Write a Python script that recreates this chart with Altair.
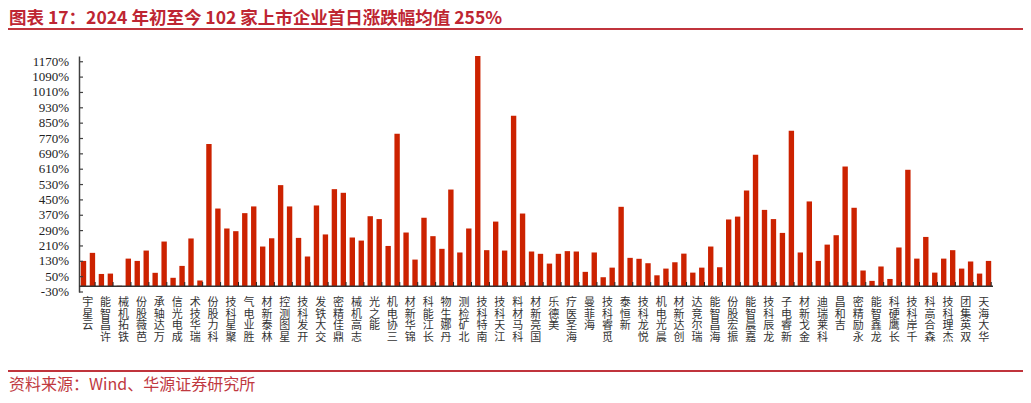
import altair as alt
import pandas as pd

# ---- data ----
values = [132, 174, 64, 66, 2, 144, 132, 186, 70, 233,
          44, 106, 249, 30, 741, 405, 301, 287, 381, 416,
          207, 250, 527, 416, 252, 155, 421, 270, 506, 487,
          254, 238, 365, 350, 210, 795, 280, 139, 357, 261,
          195, 504, 176, 301, 1200, 188, 337, 186, 889, 379,
          181, 169, 118, 169, 183, 181, 75, 176, 47, 97,
          414, 148, 143, 120, 57, 92, 125, 170, 71, 97,
          207, 99, 348, 363, 499, 685, 398, 350, 278, 810,
          176, 442, 132, 217, 266, 624, 409, 82, 28, 103,
          38, 202, 607, 144, 257, 71, 144, 188, 92, 129,
          66, 132]

names = ["云星宇", "许昌智能", "铁拓机械", "芭薇股份", "万达轴承", "成电光信", "瑞华技术",
         "科力股份", "聚星科技", "胜业电气", "林泰新材", "星图测控", "开发科技", "交大铁发",
         "鼎佳精密", "志高机械", "能之光", "三协电机", "锦华新材", "长江能科", "丹娜生物",
         "北矿检测", "南特科技", "江天科技", "科马材料", "国亮新材", "美德乐", "海圣医疗",
         "海菲曼", "觅睿科技", "新恒泰", "悦龙科技", "晨光电机", "创达新材", "瑞尔竞达",
         "海昌智能", "振宏股份", "嘉晨智能", "龙辰科技", "新睿电子", "金戈新材", "科莱瑞迪",
         "吉和昌", "永励精密", "龙鑫智能", "长鹰硬科", "千岸科技", "森合高科", "杰理科技",
         "双英集团", "华大海天"]

y_ticks = [-30, 50, 130, 210, 290, 370, 450, 530, 610, 690, 770, 850, 930, 1010, 1090, 1170]

title = "图表 17：2024 年初至今 102 家上市企业首日涨跌幅均值 255%"
source = "资料来源：Wind、华源证券研究所"

# ---- tables ----
n = len(values)
bar_df = pd.DataFrame({"idx": list(range(n)), "value": values})
lab_df = pd.DataFrame({
    "idx": [2 * k for k in range(len(names))],
    "text": ["\n".join(reversed(list(s))) for s in names],
})
xtick_df = pd.DataFrame({"idx": [i for i in range(n) if i % 2 == 1]})
ytick_df = pd.DataFrame({"v": y_ticks, "lab": [f"{v}%" for v in y_ticks]})
one = pd.DataFrame({"a": [0]})

W, H = 914, 236
RED = "#CC2200"
x_scale = alt.Scale(domain=list(range(n)), paddingInner=0.4, paddingOuter=0.2)
y_scale = alt.Scale(domain=[-30, 1200], nice=False, zero=False)
y_axis = alt.Axis(values=y_ticks, ticks=False, labels=False, grid=False,
                  domainColor="#404040", domainWidth=1.5, title=None)

bars = alt.Chart(bar_df).mark_bar(color=RED).encode(
    x=alt.X("idx:O", scale=x_scale, axis=None),
    y=alt.Y("value:Q", scale=y_scale, axis=y_axis),
    y2=alt.datum(0),
)

ytick = alt.Chart(ytick_df).mark_rule(color="#404040", strokeWidth=1.2).encode(
    y=alt.Y("v:Q", scale=y_scale, axis=y_axis), x=alt.value(0), x2=alt.value(4)
)

ylab = alt.Chart(ytick_df).mark_text(
    align="right", baseline="middle", font="Liberation Serif", fontSize=13, color="#222222"
).encode(
    y=alt.Y("v:Q", scale=y_scale, axis=y_axis), x=alt.value(-10), text="lab:N"
)

xline = alt.Chart(one).mark_rule(color="#333333", strokeWidth=1.5).encode(
    y=alt.datum(0), x=alt.value(0), x2=alt.value(W)
)

xtick = alt.Chart(xtick_df).mark_rule(color="#222222", strokeWidth=1).encode(
    x=alt.X("idx:O", scale=x_scale, bandPosition=1, axis=None),
    y=alt.datum(0), y2=alt.datum(22),
)

labels = alt.Chart(lab_df).mark_text(
    lineBreak="\n", lineHeight=11.7, font="Noto Sans CJK SC", fontSize=11,
    color="#333333", align="center", baseline="top", dx=1.5
).encode(
    x=alt.X("idx:O", scale=x_scale, bandPosition=1, axis=None),
    y=alt.value(241),
    text="text:N",
)

title_t = alt.Chart(one).mark_text(
    text=title, align="left", baseline="middle", font="Noto Sans CJK SC",
    fontSize=17.5, fontWeight="bold", color="#BE2532"
).encode(x=alt.value(-70), y=alt.value(-37))

top_line = alt.Chart(one).mark_rule(color="#C0343C", strokeWidth=2).encode(
    x=alt.value(-71), x2=alt.value(944), y=alt.value(-27)
)

bot_line = alt.Chart(one).mark_rule(color="#C0343C", strokeWidth=2).encode(
    x=alt.value(-71), x2=alt.value(944), y=alt.value(315)
)

source_t = alt.Chart(one).mark_text(
    text=source, align="left", baseline="middle", font="Noto Sans CJK SC",
    fontSize=16, color="#C0393F"
).encode(x=alt.value(-70), y=alt.value(329))

chart = alt.layer(
    bars, ytick, ylab, xline, xtick, labels, title_t, top_line, bot_line, source_t
).properties(
    width=W, height=H,
    autosize=alt.AutoSizeParams(type="none"),
    padding={"left": 71, "top": 48, "right": 30, "bottom": 103},
).configure_view(stroke=None)

chart.save("out.html", embed_options={"renderer": "svg", "actions": False})
